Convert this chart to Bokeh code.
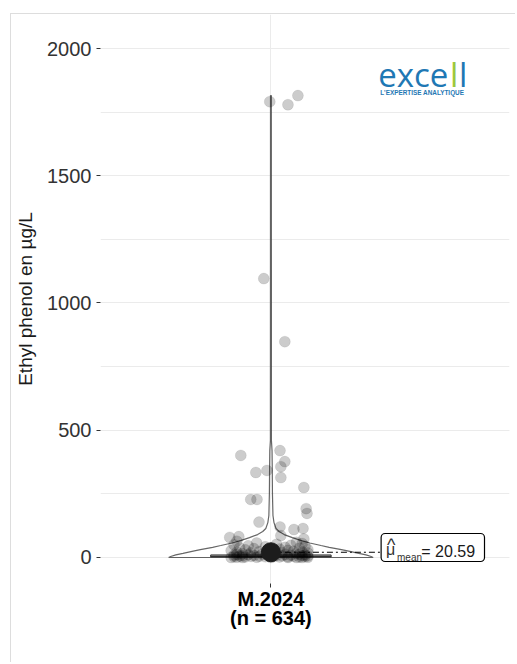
import numpy as np
from bokeh.plotting import figure
from bokeh.models import Label, FixedTicker, SingleIntervalTicker
from bokeh.embed import file_html
from bokeh.resources import INLINE

# ---------------- data ----------------
category = "M.2024"
n_obs = 634
mean_value = 20.59

hi_vals = [1815, 1791, 1779, 1096, 848, 420, 401, 377, 357, 342, 334, 314, 275,
           228, 228, 192, 173, 139, 120, 114, 110, 86, 82, 79, 73]
hi_jit = [0.095, -0.004, 0.060, -0.025, 0.049, 0.032, -0.106, 0.049, 0.035, -0.014,
          -0.053, 0.035, 0.116, -0.071, -0.049, 0.124, 0.127, -0.042, 0.032, 0.113,
          0.081, 0.035, -0.113, -0.145, 0.116]

mid_vals = [64, 60, 57, 55, 52, 50, 48, 46, 44, 42, 40, 38, 36, 35, 33, 31, 30, 28,
            27, 26, 25, 24, 22, 21, 20, 19, 18, 17, 16, 15]
mid_jit = [-0.12, 0.09, -0.05, 0.11, 0.02, -0.13, 0.07, -0.08, 0.12, -0.02, 0.05,
           -0.11, 0.10, -0.06, 0.03, 0.13, -0.09, 0.06, -0.14, 0.0, 0.08, -0.04,
           0.11, -0.12, 0.04, -0.07, 0.13, -0.01, 0.09, -0.10]

low_vals = [14, 13, 12, 12, 11, 10, 10, 9, 9, 8, 8, 7, 7, 6, 6, 5, 5, 5, 4, 4,
            4, 3, 3, 3, 2, 2, 2, 1, 1, 1, 0, 0, 0, 0, 0, 0]
low_jit = [-0.03, 0.10, -0.12, 0.05, -0.08, 0.12, -0.01, -0.13, 0.07, 0.02, -0.06,
           0.11, -0.10, 0.04, 0.13, -0.04, -0.11, 0.08, 0.01, -0.07, 0.12, -0.13,
           0.06, -0.02, 0.10, -0.09, 0.03, -0.12, 0.13, -0.05, 0.09, -0.10, 0.00,
           0.06, -0.14, 0.11]

violin_levels = [0, 4, 10, 16, 25, 31, 40, 47, 57, 67, 78, 90, 102, 114, 137, 165,
                 250, 350, 420, 440, 460, 1815]
violin_density = [1.0, 0.98, 0.93, 0.86, 0.76, 0.69, 0.57, 0.49, 0.38, 0.29, 0.21,
                  0.13, 0.08, 0.05, 0.03, 0.02, 0.015, 0.013, 0.011, 0.008, 0.005, 0.004]

box_q1, box_median, box_q3 = 2, 5, 10
whisker_low, whisker_high = 0, 22

y_ticks_interval = 500

# ---------------- figure ----------------
p = figure(width=505, height=649, x_range=(0.4, 1.840), y_range=(-102.2, 2133.6),
           output_backend="svg", toolbar_location=None,
           min_border_left=89, min_border_right=7, min_border_top=0,
           min_border_bottom=80, margin=(13, 0, 0, 10),
           styles={"border-top": "1px solid #dddddd", "border-left": "1px solid #dddddd"})
p.background_fill_color = "white"
p.border_fill_color = "white"
p.outline_line_color = None

xc = 1.0
# violin
vw = 0.36
dens = np.array(violin_density)
lev = np.array(violin_levels)
vx = list(xc - vw * dens) + list((xc + vw * dens)[::-1])
vy = list(lev) + list(lev[::-1])
p.patch(vx, vy, fill_color="white", fill_alpha=0.2, line_color="#333333",
        line_width=1.2, line_alpha=0.75)

# boxplot
bw = 0.212
p.quad(left=[xc - bw], right=[xc + bw], bottom=[box_q1], top=[box_q3],
       fill_color=None, line_color="#333333", line_width=1)
p.segment(x0=[xc - bw], x1=[xc + bw], y0=[box_median], y1=[box_median],
          line_color="#333333", line_width=1.5)
p.segment(x0=[xc, xc], x1=[xc, xc], y0=[box_q3, box_q1], y1=[whisker_high, whisker_low],
          line_color="#333333", line_width=1)

# points
vals = hi_vals + mid_vals + low_vals
jit = hi_jit + mid_jit + low_jit
px = [xc + j for j in jit]
p.scatter(px, vals, size=11, fill_color="black", fill_alpha=0.2,
          line_color="black", line_alpha=0.07)

# mean
p.segment(x0=[xc], x1=[1.388], y0=[mean_value], y1=[mean_value],
          line_color="black", line_width=1, line_dash="6 3 2 3")
p.scatter([xc], [mean_value], size=19, fill_color="#1c1c1c", line_color="#1c1c1c")

# mean label box
p.quad(left=[1.388], right=[1.752], bottom=[-15.7], top=[94.3],
       fill_color="white", line_color="black", line_width=1.2, border_radius=4)
p.add_layout(Label(x=1.405, y=31.9, text="\u03bc", text_font="Liberation Sans",
                   text_font_size="16px", text_color="#333333",
                   text_baseline="alphabetic", text_align="left"))
p.add_layout(Label(x=1.4236, y=50, text="^", text_font="Liberation Sans",
                   text_font_size="18px", text_color="#333333",
                   text_baseline="alphabetic", text_align="center"))
p.add_layout(Label(x=1.444, y=-2.0, text="mean", text_font="Liberation Sans",
                   text_font_size="10px", text_color="#333333",
                   text_baseline="alphabetic", text_align="left"))
p.add_layout(Label(x=1.5295, y=23.6, text="= %.2f" % mean_value, text_font="Liberation Sans",
                   text_font_size="16px", text_color="#1a1a1a",
                   text_baseline="alphabetic", text_align="left"))

# logo
logo_blue = "#1f78b4"
logo_green = "#9cc83c"
p.add_layout(Label(x=1.3777, y=1898, text="exce", text_font="Open Sans",
                   text_font_size="33px", text_color=logo_blue,
                   text_baseline="alphabetic", text_align="left"))
p.add_layout(Label(x=1.6305, y=1898, text="l", text_font="Open Sans",
                   text_font_size="33px", text_color=logo_green,
                   text_baseline="alphabetic", text_align="left"))
p.add_layout(Label(x=1.6623, y=1898, text="l", text_font="Open Sans",
                   text_font_size="33px", text_color=logo_blue,
                   text_baseline="alphabetic", text_align="left"))
p.add_layout(Label(x=1.3848, y=1827, text="L'EXPERTISE ANALYTIQUE", text_font="Liberation Sans",
                   text_font_size="6.4px", text_font_style="bold", text_color=logo_blue,
                   text_baseline="alphabetic", text_align="left"))

# axes
p.xaxis.ticker = FixedTicker(ticks=[xc])
p.xaxis.major_label_overrides = {xc: "%s\n(n = %d)" % (category, n_obs)}
p.xaxis.major_label_text_font = "Liberation Sans"
p.xaxis.major_label_text_font_size = "20px"
p.xaxis.major_label_text_font_style = "bold"
p.xaxis.major_label_text_color = "black"
p.xaxis.major_label_text_line_height = 0.9
p.xaxis.major_label_standoff = 0
p.xaxis.axis_line_color = None
p.xaxis.major_tick_out = 4
p.xaxis.major_tick_in = 0
p.xaxis.major_tick_line_color = "#333333"
p.xaxis.minor_tick_line_color = None
p.xgrid.ticker = FixedTicker(ticks=[xc])
p.xgrid.grid_line_color = "#ebebeb"

p.yaxis.ticker = SingleIntervalTicker(interval=y_ticks_interval, num_minor_ticks=2)
p.yaxis.major_label_text_font = "Liberation Sans"
p.yaxis.major_label_text_font_size = "20px"
p.yaxis.major_label_text_color = "#333333"
p.yaxis.major_label_standoff = 5
p.yaxis.axis_line_color = None
p.yaxis.major_tick_out = 4
p.yaxis.major_tick_in = 0
p.yaxis.major_tick_line_color = "#333333"
p.yaxis.minor_tick_line_color = None
p.yaxis.axis_label = "Ethyl phenol en \u00b5g/L"
p.yaxis.axis_label_text_font = "Liberation Sans"
p.yaxis.axis_label_text_font_size = "19px"
p.yaxis.axis_label_text_font_style = "normal"
p.yaxis.axis_label_text_color = "#1a1a1a"
p.yaxis.axis_label_standoff = 8
p.ygrid.grid_line_color = "#ebebeb"
p.ygrid.minor_grid_line_color = "#ebebeb"

open("out.html", "w").write(file_html(p, INLINE))
